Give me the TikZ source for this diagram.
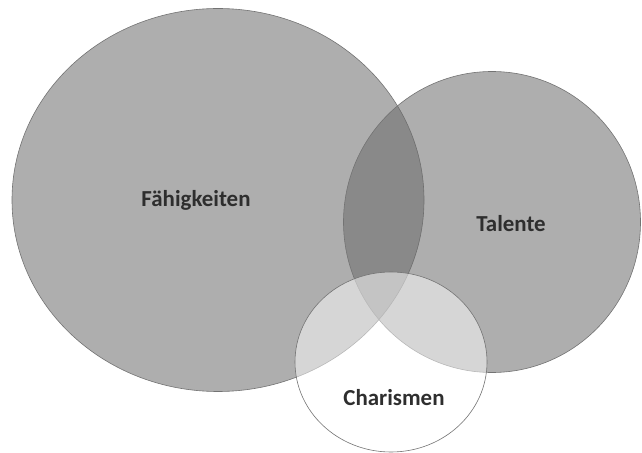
\documentclass[tikz,border=0pt]{standalone}
\usepackage{fontspec}
\setmainfont{Carlito}
\usetikzlibrary{shapes.geometric}
\definecolor{setgray}{gray}{0.42}
\definecolor{rimgray}{gray}{0.45}
\definecolor{labelgray}{gray}{0.18}
\tikzset{
    setcircle/.style = {ellipse,draw=rimgray,line width=0.6pt,fill=setgray,fill opacity=0.55,inner sep=0pt},
    giftcircle/.style = {ellipse,draw=rimgray,line width=0.6pt,fill=white,fill opacity=0.5,inner sep=0pt},
    setlabel/.style = {font=\fontsize{23}{27}\selectfont\bfseries,text=labelgray}}

\begin{document}
\begin{tikzpicture}[x=1bp,y=-1bp]
    \useasboundingbox (0,0) rectangle (642,453);
    \path (218,200) node[setcircle,minimum width=412bp,minimum height=383bp] (faeh) {}
        (492,222) node[setcircle,minimum width=297bp,minimum height=301bp] (tal) {}
        (391,362) node[giftcircle,minimum width=192bp,minimum height=180bp] (char) {};
    \path (196,200) node[setlabel] (faehlabel) {Fähigkeiten}
        (511,224) node[setlabel] (tallabel) {Talente}
        (394,398) node[setlabel] (charlabel) {Charismen};
\end{tikzpicture}
\end{document}
